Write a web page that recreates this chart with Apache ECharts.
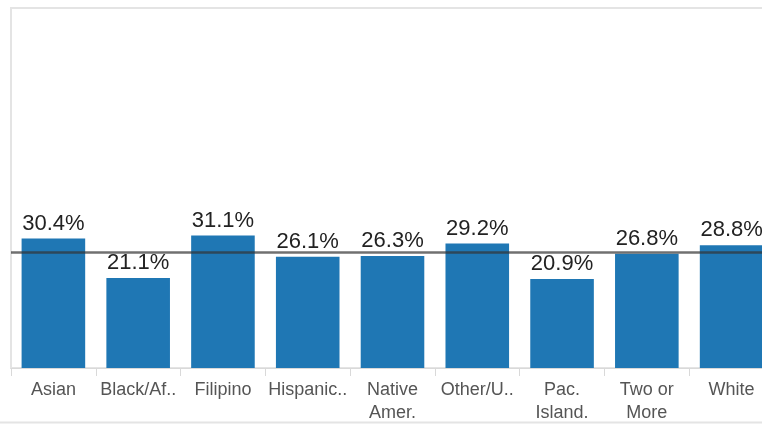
<!DOCTYPE html>
<html>
<head>
<meta charset="utf-8">
<script src="https://cdn.jsdelivr.net/npm/echarts@6/dist/echarts.min.js"></script>
<style>
  html, body { margin: 0; padding: 0; background: #fff; }
  #chart { width: 762px; height: 424px; }
</style>
</head>
<body>
<div id="chart"></div>
<script>
var categories = ['Asian', 'Black/Af..', 'Filipino', 'Hispanic..', 'Native\nAmer.', 'Other/U..', 'Pac.\nIsland.', 'Two or\nMore', 'White'];
var rates = [30.4, 21.1, 31.1, 26.1, 26.3, 29.2, 20.9, 26.8, 28.8];
var average = 27.1;

var chart = echarts.init(document.getElementById('chart'), null, { renderer: 'canvas' });
chart.setOption({
    animation: false,
    grid: {
        left: 11,
        top: 8,
        width: 763,
        height: 360,
        outerBoundsMode: 'none',
        show: true,
        borderColor: '#e4e4e4',
        borderWidth: 2,
        backgroundColor: 'transparent'
    },
    xAxis: {
        type: 'category',
        data: categories,
        axisLine: { lineStyle: { color: '#d9d9d9', width: 1 } },
        axisTick: { show: true, length: 8, lineStyle: { color: '#d9d9d9' } },
        axisLabel: {
            interval: 0,
            color: '#555',
            fontFamily: 'Liberation Sans, Arial, sans-serif',
            fontSize: 18,
            lineHeight: 23,
            margin: 11
        }
    },
    yAxis: {
        type: 'value',
        min: 0,
        max: 84.5,
        show: false,
        splitLine: { show: false }
    },
    series: [{
        type: 'bar',
        data: rates,
        barWidth: '75%',
        itemStyle: { color: '#1f77b4' },
        label: {
            show: true,
            position: 'top',
            distance: 4,
            formatter: function (p) { return p.value.toFixed(1) + '%'; },
            color: '#222',
            fontFamily: 'Liberation Sans, Arial, sans-serif',
            fontSize: 22
        },
        markLine: {
            silent: true,
            symbol: 'none',
            label: { show: false },
            lineStyle: { color: '#333', width: 2.5, type: 'solid', opacity: 0.7 },
            data: [{ yAxis: average }]
        }
    }],
    graphic: [{
        type: 'line',
        shape: { x1: 0, y1: 422.5, x2: 762, y2: 422.5 },
        style: { stroke: '#e4e4e4', lineWidth: 2 }
    }]
});
</script>
</body>
</html>
